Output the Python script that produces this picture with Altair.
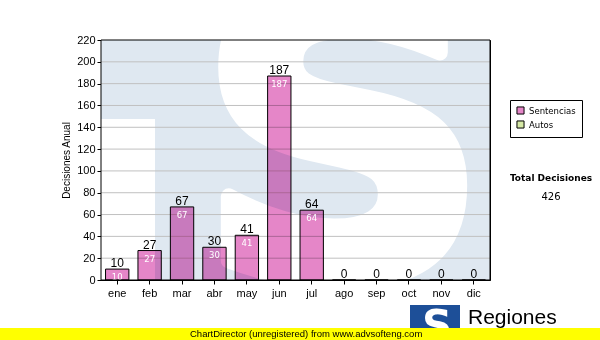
import altair as alt
import pandas as pd

meses = ["ene", "feb", "mar", "abr", "may", "jun", "jul", "ago", "sep", "oct", "nov", "dic"]
sentencias = [10, 27, 67, 30, 41, 187, 64, 0, 0, 0, 0, 0]
series = ["Sentencias", "Autos"]
colores = ["#e586c8", "#d6e9a6"]
y_ticks = list(range(0, 221, 20))
total = 426

W, H = 389, 240

df = pd.DataFrame({"mes": meses, "valor": sentencias, "serie": "Sentencias"})
grid_df = pd.DataFrame({"v": y_ticks[1:-1]})


def one():
    return alt.Data(values=[{"a": 1}])


y_scale = alt.Scale(domain=[0, 220], nice=False)
y_axis = alt.Axis(values=y_ticks, title="Decisiones Anual", grid=False,
                  labelFont="Liberation Sans", labelFontSize=11, labelColor="black",
                  tickColor="black", domainColor="black", tickSize=4, labelPadding=2,
                  titleFont="Liberation Sans", titleFontSize=10, titleFontWeight="normal",
                  titleColor="black", titlePadding=5)
x_axis = alt.Axis(title=None, labelAngle=0, labelFont="Liberation Sans", labelFontSize=11,
                  labelColor="black", tickColor="black", domainColor="black", tickSize=4,
                  labelPadding=3, grid=False)
x_enc = alt.X("mes:N", sort=meses,
              scale=alt.Scale(paddingInner=0.28, paddingOuter=0.14), axis=x_axis)

# watermark
wm_blue = alt.Chart(one()).mark_rect(color="#dfe8f1").encode(
    x=alt.value(0), x2=alt.value(W), y=alt.value(0), y2=alt.value(H))
wm_white = alt.Chart(one()).mark_rect(color="white").encode(
    x=alt.value(0), x2=alt.value(54), y=alt.value(79), y2=alt.value(H))
wm_s = alt.Chart(one()).mark_text(
    font="DejaVu Sans", fontWeight="bold", fontSize=405, color="white",
    stroke="white", strokeWidth=16, strokeJoin="round",
    align="center", baseline="alphabetic", clip=True
).encode(x=alt.value(242), y=alt.value(236), text=alt.value("S"))

grid = alt.Chart(grid_df).mark_rule(color="#c0c0c0", strokeWidth=1).encode(
    y=alt.Y("v:Q", scale=y_scale, axis=y_axis))

bars = alt.Chart(df).mark_bar(stroke="black", strokeWidth=1, blend="multiply").encode(
    x=x_enc,
    y=alt.Y("valor:Q", scale=y_scale, axis=y_axis),
    color=alt.Color("serie:N", scale=alt.Scale(domain=series, range=colores),
                    legend=alt.Legend(title=None, orient="none", legendX=409, legendY=60,
                                      strokeColor="black", fillColor="white", padding=6,
                                      symbolType="square", symbolSize=50,
                                      symbolStrokeColor="black", symbolStrokeWidth=1,
                                      labelFont="DejaVu Sans", labelFontSize=8.5,
                                      labelColor="black", rowPadding=1, labelOffset=4)),
)

top_labels = alt.Chart(df).mark_text(
    font="Liberation Sans", fontSize=12, color="black", baseline="alphabetic", dy=-2
).encode(x=alt.X("mes:N", sort=meses, axis=x_axis), y=alt.Y("valor:Q", scale=y_scale, axis=y_axis),
         text=alt.Text("valor:Q"))

in_labels = alt.Chart(df).transform_filter("datum.valor > 0").mark_text(
    font="DejaVu Sans", fontSize=8.5, color="white", baseline="top", dy=4
).encode(x=alt.X("mes:N", sort=meses, axis=x_axis), y=alt.Y("valor:Q", scale=y_scale, axis=y_axis),
         text=alt.Text("valor:Q"))

border = alt.Chart(one()).mark_rect(filled=False, stroke="black", strokeWidth=1).encode(
    x=alt.value(0), x2=alt.value(W), y=alt.value(0), y2=alt.value(H))

tot_title = alt.Chart(one()).mark_text(
    font="DejaVu Sans", fontWeight="bold", fontSize=9, color="black", align="center", baseline="middle"
).encode(x=alt.value(450), y=alt.value(138), text=alt.value("Total Decisiones"))
tot_val = alt.Chart(one()).mark_text(
    font="DejaVu Sans", fontSize=10, color="black", align="center", baseline="middle"
).encode(x=alt.value(450), y=alt.value(157), text=alt.value(str(total)))

logo_box = alt.Chart(one()).mark_rect(color="#1d4f98").encode(
    x=alt.value(309), x2=alt.value(359), y=alt.value(265), y2=alt.value(300))
logo_s = alt.Chart(one()).mark_text(
    font="DejaVu Sans", fontWeight="bold", fontSize=42, color="white", align="center", baseline="alphabetic"
).encode(x=alt.value(336), y=alt.value(300), text=alt.value("S"))
logo_txt = alt.Chart(one()).mark_text(
    font="Liberation Sans", fontSize=21, color="black", align="left", baseline="alphabetic"
).encode(x=alt.value(367), y=alt.value(284), text=alt.value("Regiones"))
logo_sub = alt.Chart(one()).mark_text(
    font="Liberation Sans", fontSize=10, color="black", align="left", baseline="alphabetic"
).encode(x=alt.value(367), y=alt.value(297), text=alt.value("Tribunal Supremo de Justicia"))

yellow = alt.Chart(one()).mark_rect(color="#ffff00").encode(
    x=alt.value(-101), x2=alt.value(499), y=alt.value(288), y2=alt.value(300))
cd_txt = alt.Chart(one()).mark_text(
    font="Liberation Sans", fontSize=9.5, color="black", align="left", baseline="middle"
).encode(x=alt.value(89), y=alt.value(294), text=alt.value("ChartDirector (unregistered) from www.advsofteng.com"))

chart = alt.layer(
    wm_blue, wm_white, wm_s, grid, bars, top_labels, in_labels, border,
    tot_title, tot_val, logo_box, logo_s, logo_txt, logo_sub, yellow, cd_txt
).properties(
    width=W, height=H,
    autosize=alt.AutoSizeParams(type="none"),
    padding={"left": 101, "top": 40, "right": 110, "bottom": 60},
    background="white",
).configure_view(stroke="black", strokeWidth=1)

chart.save("out.html", embed_options={"renderer": "svg", "actions": False})
